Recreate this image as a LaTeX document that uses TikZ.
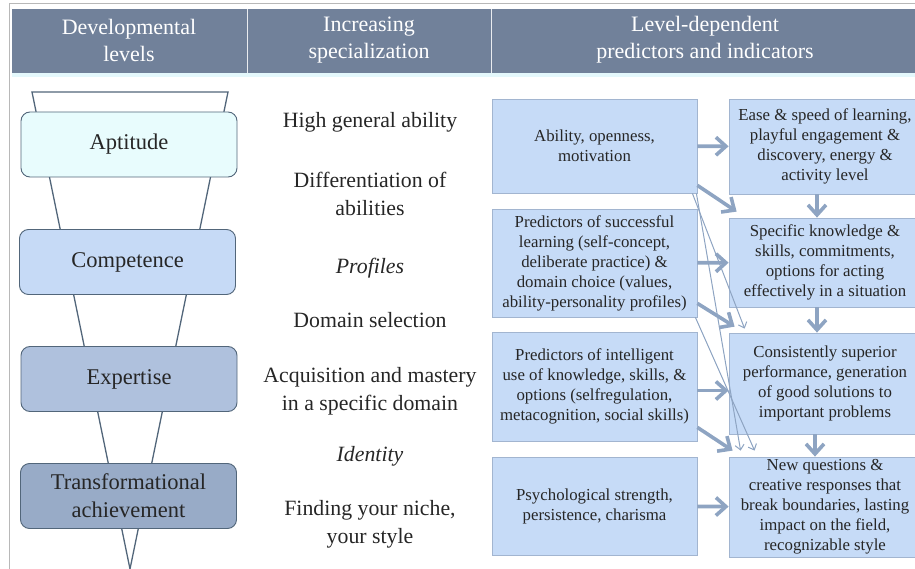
\documentclass[tikz,border=0pt]{standalone}
\usepackage{fontspec}
\setmainfont{Liberation Serif}
\usetikzlibrary{arrows.meta}

\definecolor{headblue}{HTML}{71819A}
\definecolor{stripcyan}{HTML}{E4F8FC}
\definecolor{framegray}{HTML}{B8B8B8}
\definecolor{funnelline}{HTML}{52667A}
\definecolor{aptfill}{HTML}{E8FCFD}
\definecolor{compfill}{HTML}{C6DAF6}
\definecolor{expfill}{HTML}{AFC1DD}
\definecolor{trfill}{HTML}{98ABC7}
\definecolor{boxfill}{HTML}{C6DBF7}
\definecolor{boxline}{HTML}{A2B5D0}
\definecolor{arrowblue}{HTML}{8EA4C2}

\tikzset{
  head/.style={text=white, align=center, font=\fontsize{22}{27}\selectfont},
  level/.style={draw=funnelline, line width=0.9pt, rounded corners=9pt,
    minimum width=216pt, minimum height=65pt, align=center,
    font=\fontsize{22.5}{28}\selectfont, text=black!85},
  spec/.style={align=center, font=\fontsize{21.8}{28}\selectfont, text=black!85},
  pred/.style={draw=boxline, fill=boxfill, line width=0.8pt, minimum width=205pt,
    align=center, inner sep=2pt, font=\fontsize{16.8}{20}\selectfont, text=black!85},
  ind/.style={pred, minimum width=192pt},
  bigarrow/.style={draw=arrowblue, line width=3.6pt, -{Straight Barb[length=10pt,width=18pt]}},
  thinarrow/.style={draw=arrowblue, line width=1pt, -{Straight Barb[length=5pt,width=9pt]}}
}

\begin{document}
\begin{tikzpicture}[x=1pt,y=-1pt]
\useasboundingbox (0,0) rectangle (915,569);

% frame and header
\draw[framegray, line width=1pt] (9,569) -- (9,4) -- (915,4);
\fill[headblue] (12,9) rectangle (915,73);
\fill[stripcyan] (12,73) rectangle (915,77);
\draw[white!85!headblue, line width=0.8pt] (247,9) -- (247,73);
\draw[white!85!headblue, line width=0.8pt] (491,9) -- (491,73);
\node[head] (h1) at (129,40) {Developmental\\levels};
\node[head] (h2) at (369,40) {Increasing\\specialization};
\node[head] (h3) at (705,40) {Level-dependent\\predictors and indicators};

% funnel
\coordinate (ftl) at (32,92);
\coordinate (ftr) at (228,92);
\coordinate (apex) at (130,569);
\draw[funnelline, line width=1.3pt] (ftl) -- (ftr) -- (apex) -- cycle;

\node[level, fill=aptfill] (apt) at (129,144.5) {Aptitude};
\node[level, fill=compfill] (comp) at (127.5,262) {Competence};
\node[level, fill=expfill] (expert) at (129,379) {Expertise};
\node[level, fill=trfill] (transf) at (128.5,496) {Transformational\\achievement};

% specialization column
\node[spec] (s1) at (370,122) {High general ability};
\node[spec] (s2) at (370,194) {Differentiation of\\abilities};
\node[spec] (s3) at (370,268) {\itshape Profiles};
\node[spec] (s4) at (370,320) {Domain selection};
\node[spec] (s5) at (370,391) {Acquisition and mastery\\in a specific domain};
\node[spec] (s6) at (370,456) {\itshape Identity};
\node[spec] (s7) at (370,524) {Finding your niche,\\your style};

% predictors
\node[pred, minimum height=94pt] (p1) at (594.5,146) {Ability, openness,\\motivation};
\node[pred, minimum height=108pt] (p2) at (594.5,263) {Predictors of successful\\learning (self-concept,\\deliberate practice) \&\\domain choice (values,\\ability-personality profiles)};
\node[pred, minimum height=109pt] (p3) at (594.5,386.5) {Predictors of intelligent\\use of knowledge, skills, \&\\options (selfregulation,\\metacognition, social skills)};
\node[pred, minimum height=98pt] (p4) at (594.5,506) {Psychological strength,\\persistence, charisma};

% indicators
\node[ind, minimum height=95pt] (i1) at (825,146.5) {Ease \& speed of learning,\\playful engagement \&\\discovery, energy \&\\activity level};
\node[ind, minimum height=89pt] (i2) at (825,262.5) {Specific knowledge \&\\skills, commitments,\\options for acting\\effectively in a situation};
\node[ind, minimum height=101pt] (i3) at (825,383.5) {Consistently superior\\performance, generation\\of good solutions to\\important problems};
\node[ind, minimum height=100pt] (i4) at (825,507) {New questions \&\\creative responses that\\break boundaries, lasting\\impact on the field,\\recognizable style};

% arrows
\draw[bigarrow] (p1) -- (i1);
\draw[bigarrow] (p2) -- (i2);
\draw[bigarrow] ([yshift=-4pt]p3.east) -- ([yshift=-4pt]p3.east -| i3.west);
\draw[bigarrow] (p4) -- (i4);
\draw[bigarrow] ([xshift=-8pt]i1.south) -- ([xshift=-8pt]i2.north);
\draw[bigarrow] ([xshift=-8pt]i2.south) -- ([xshift=-8pt]i3.north);
\draw[bigarrow] ([xshift=-10pt]i3.south) -- ([xshift=-10pt]i4.north);
\draw[bigarrow] ([yshift=8pt]p1.south east) -- ([xshift=8pt,yshift=6pt]i2.north west);
\draw[bigarrow] ([yshift=14pt]p2.south east) -- ([xshift=6pt,yshift=6pt]i3.north west);
\draw[bigarrow] ([yshift=14pt]p3.south east) -- ([xshift=4pt,yshift=6pt]i4.north west);
\draw[thinarrow] ([xshift=-5pt]p1.south east) -- ([xshift=16pt,yshift=4pt]i3.north west);
\draw[thinarrow] ([xshift=-1pt]p1.south east) -- ([xshift=12pt,yshift=6pt]i4.north west);
\draw[thinarrow] ([xshift=-2pt]p2.south east) -- ([xshift=26pt,yshift=6pt]i4.north west);
\end{tikzpicture}
\end{document}
